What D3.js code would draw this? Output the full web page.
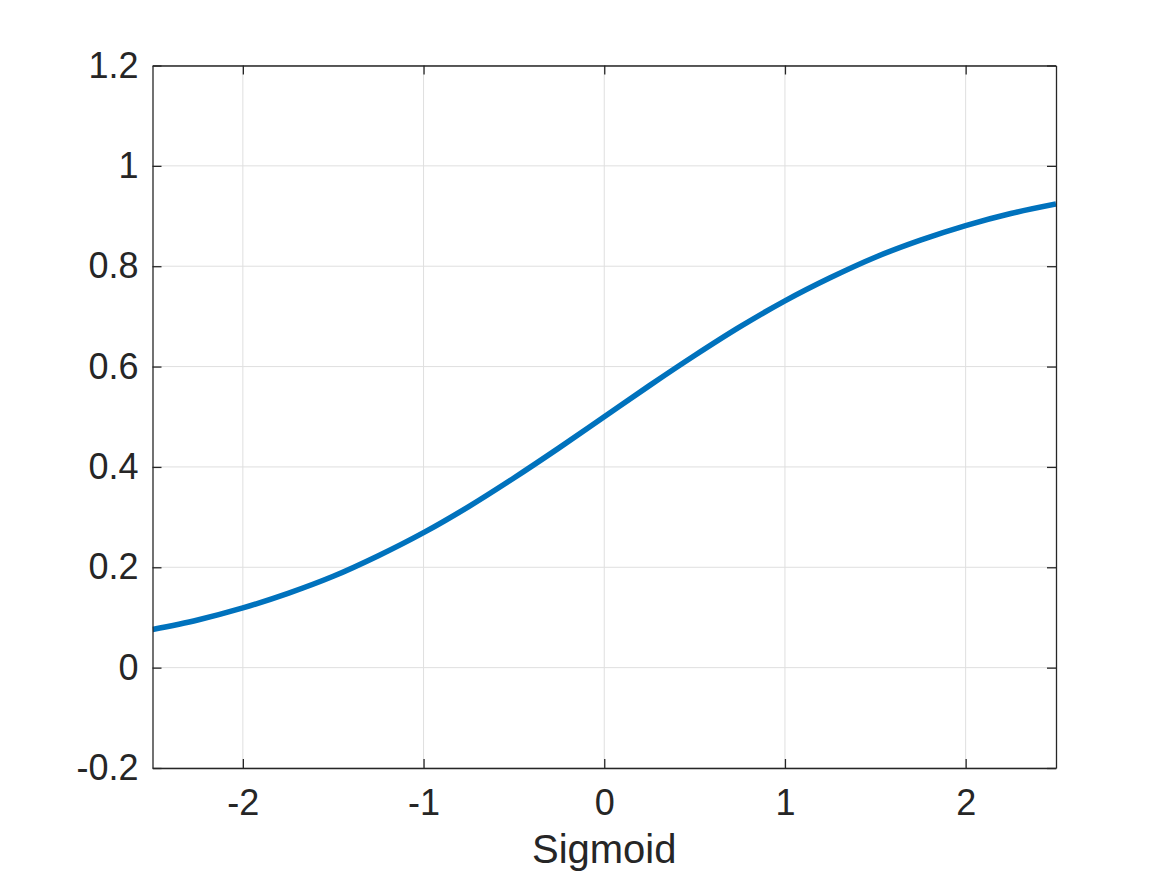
<!DOCTYPE html>
<html>
<head>
    <script src="https://d3js.org/d3.v7.min.js"></script>
    <style>
        body { margin: 0; background: #fff; font-family: 'Liberation Sans', Arial, sans-serif; }
        svg { display: block; }
        .tick text { font-size: 36px; fill: #262626; font-family: 'Liberation Sans', Arial, sans-serif; }
    </style>
</head>
<body>
<div id="chart"></div>
<script>
    // values
    var xs = [-2.5, -2.25, -2, -1.75, -1.5, -1.25, -1, -0.75, -0.5, -0.25, 0,
              0.25, 0.5, 0.75, 1, 1.25, 1.5, 1.75, 2, 2.25, 2.5];
    var ys = [0.076, 0.095, 0.119, 0.148, 0.182, 0.223, 0.269, 0.321, 0.378, 0.438, 0.5,
              0.562, 0.622, 0.679, 0.731, 0.777, 0.818, 0.852, 0.881, 0.905, 0.924];
    var xTicks = [-2, -1, 0, 1, 2];
    var yTicks = [-0.2, 0, 0.2, 0.4, 0.6, 0.8, 1, 1.2];
    var xLabel = "Sigmoid";

    var W = 1167, H = 875;
    var margin = {top: 65.5, right: 111, bottom: 107, left: 152.5};
    var width = W - margin.left - margin.right,
        height = H - margin.top - margin.bottom;

    var svg = d3.select("#chart").append("svg")
        .attr("width", W).attr("height", H);

    var g = svg.append("g")
        .attr("transform", "translate(" + margin.left + "," + margin.top + ")");

    var x = d3.scaleLinear().domain([-2.5, 2.5]).range([0, width]);
    var y = d3.scaleLinear().domain([-0.2, 1.2]).range([height, 0]);

    // grid
    g.selectAll(".vgrid").data(xTicks).enter().append("line")
        .attr("x1", d => x(d)).attr("x2", d => x(d))
        .attr("y1", 0).attr("y2", height)
        .attr("stroke", "#dfdfdf").attr("stroke-width", 1);
    g.selectAll(".hgrid").data(yTicks).enter().append("line")
        .attr("x1", 0).attr("x2", width)
        .attr("y1", d => y(d)).attr("y2", d => y(d))
        .attr("stroke", "#dfdfdf").attr("stroke-width", 1);

    // curve
    svg.append("clipPath").attr("id", "clip")
        .append("rect").attr("width", width).attr("height", height);

    var pts = xs.map((d, i) => [d, ys[i]]);
    var line = d3.line()
        .x(d => x(d[0])).y(d => y(d[1]))
        .curve(d3.curveCatmullRom);

    g.append("path")
        .datum(pts)
        .attr("clip-path", "url(#clip)")
        .attr("fill", "none")
        .attr("stroke", "#0072bd")
        .attr("stroke-width", 5.5)
        .attr("d", line);

    // axes, ticks pointing inward
    var fmt = d => String(d);
    var xAxis = d3.axisBottom(x).tickValues(xTicks).tickFormat(fmt)
        .tickSizeInner(-9).tickSizeOuter(0).tickPadding(21);
    var yAxis = d3.axisLeft(y).tickValues(yTicks).tickFormat(fmt)
        .tickSizeInner(-9).tickSizeOuter(0).tickPadding(14);

    var gx = g.append("g").attr("transform", "translate(0," + height + ")").call(xAxis);
    var gy = g.append("g").call(yAxis);
    var gx2 = g.append("g").call(d3.axisTop(x).tickValues(xTicks).tickFormat("")
        .tickSizeInner(-9).tickSizeOuter(0));
    var gy2 = g.append("g").attr("transform", "translate(" + width + ",0)")
        .call(d3.axisRight(y).tickValues(yTicks).tickFormat("")
        .tickSizeInner(-9).tickSizeOuter(0));

    [gx, gy, gx2, gy2].forEach(function (a) {
        a.select(".domain").attr("stroke", "#262626").attr("stroke-width", 1.3);
        a.selectAll(".tick line").attr("stroke", "#262626").attr("stroke-width", 1.3);
    });

    g.append("text")
        .attr("x", width / 2)
        .attr("y", 863 - margin.top)
        .attr("text-anchor", "middle")
        .attr("fill", "#262626")
        .style("font-size", "40px")
        .text(xLabel);
</script>
</body>
</html>
